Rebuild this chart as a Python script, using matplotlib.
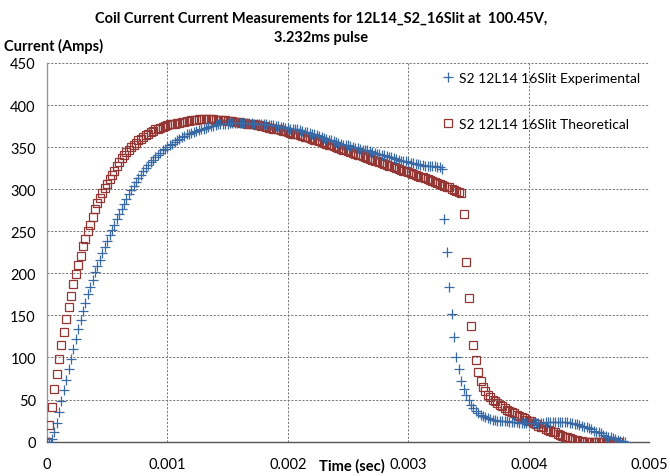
import numpy as np
import matplotlib
matplotlib.use("Agg")
import matplotlib.pyplot as plt

plt.rcParams['font.family'] = ['Lato', 'DejaVu Sans']

# scope samples every 20 us
sample_step = 2e-5

# S2 12L14 16Slit Experimental (Amps), from t = 0
exp_amps = [
    0, 0, 3, 12, 22, 35, 48, 61, 73, 86,
    98, 110, 122, 134, 144, 155, 165, 175, 184, 192,
    201, 209, 216, 224, 231, 238, 245, 251, 257, 264,
    270, 276, 282, 288, 294, 299, 304, 309, 313, 317,
    321, 325, 329, 332, 335, 338, 341, 343, 346, 348,
    350, 352, 354, 356, 358, 360, 362, 363, 365, 366,
    367, 368, 369, 370, 371, 372, 373, 374, 375, 375,
    376, 377, 377, 378, 378, 378, 379, 379, 379, 379,
    379, 379, 379, 379, 379, 379, 378, 378, 378, 377,
    377, 377, 376, 376, 376, 375, 375, 374, 374, 373,
    373, 372, 372, 371, 371, 370, 369, 368, 368, 367,
    366, 365, 364, 363, 362, 361, 360, 359, 358, 357,
    356, 355, 354, 353, 353, 352, 351, 350, 349, 349,
    348, 347, 346, 346, 345, 344, 343, 342, 342, 341,
    340, 339, 338, 338, 337, 336, 335, 334, 334, 333,
    332, 331, 331, 330, 330, 329, 329, 328, 328, 327,
    327, 327, 326, 326, 324, 265, 225, 184, 152, 124,
    101, 86, 72, 63, 55, 49, 44, 40, 37, 34,
    32, 30, 29, 28, 27, 26, 26, 25, 25, 24,
    24, 24, 23, 23, 23, 23, 22, 22, 22, 22,
    22, 22, 22, 22, 22, 22, 22, 23, 23, 23,
    23, 23, 23, 23, 23, 23, 23, 22, 22, 21,
    21, 20, 19, 18, 17, 16, 15, 13, 12, 11,
    10, 8, 7, 6, 5, 4, 3, 2, 1, 1,
    0,
]

# S2 12L14 16Slit Theoretical (Amps), from t = 0
th_amps = [
    0, 20, 41, 62, 80, 98, 115, 130, 146, 160,
    173, 187, 199, 210, 221, 232, 241, 250, 258, 267,
    276, 283, 290, 296, 301, 306, 312, 317, 322, 327,
    332, 337, 341, 344, 347, 350, 353, 355, 358, 360,
    362, 364, 366, 368, 369, 371, 372, 373, 374, 375,
    376, 377, 378, 378, 379, 379, 380, 380, 381, 381,
    382, 382, 382, 383, 383, 383, 383, 383, 383, 383,
    382, 382, 382, 382, 382, 381, 381, 381, 380, 380,
    380, 379, 379, 378, 378, 377, 377, 376, 376, 375,
    375, 374, 373, 373, 372, 371, 371, 370, 369, 369,
    368, 367, 366, 366, 365, 364, 363, 362, 362, 361,
    360, 359, 358, 357, 356, 355, 354, 353, 352, 351,
    350, 349, 348, 347, 346, 345, 344, 343, 342, 341,
    340, 339, 338, 337, 336, 335, 334, 333, 332, 331,
    330, 329, 328, 327, 326, 325, 324, 323, 322, 321,
    320, 319, 318, 317, 316, 315, 314, 313, 312, 311,
    310, 308, 307, 306, 305, 304, 303, 302, 300, 299,
    298, 297, 295, 270, 213, 171, 138, 115, 97, 83,
    72, 65, 60, 56, 53, 50, 48, 46, 44, 42,
    40, 38, 37, 35, 34, 32, 31, 29, 28, 26,
    25, 24, 22, 21, 19, 18, 17, 15, 14, 13,
    12, 11, 9, 8, 7, 6, 5, 4, 3, 2,
    2, 1, 1, 0, 0, 0, 0, 0, 0, 0,
    0, 0, 0, 0, 0, 0, 0, 0,
]

exp_t = np.arange(len(exp_amps)) * sample_step
th_t = np.arange(len(th_amps)) * sample_step

x_ticks = [0, 0.001, 0.002, 0.003, 0.004, 0.005]
x_tick_labels = ["0", "0.001", "0.002", "0.003", "0.004", "0.005"]
y_ticks = list(range(0, 451, 50))

fig = plt.figure(figsize=(6.7, 4.77), dpi=100)
ax = fig.add_axes([0.070, 0.072, 0.899, 0.794])

ax.plot(th_t, th_amps, linestyle="none", marker="s", markersize=5.5,
        markerfacecolor="none", markeredgecolor="#943634", markeredgewidth=0.9,
        label="S2 12L14 16Slit Theoretical", zorder=3)
ax.plot(exp_t, exp_amps, linestyle="none", marker="+", markersize=6.5,
        color="#3a6aa5", markeredgewidth=0.9,
        label="S2 12L14 16Slit Experimental", zorder=4)

ax.set_xlim(0, 0.005)
ax.set_ylim(0, 450)
ax.set_xticks(x_ticks)
ax.set_xticklabels(x_tick_labels)
ax.set_yticks(y_ticks)
ax.tick_params(length=0, labelsize=10.5, pad=8)
ax.tick_params(axis="x", pad=11)

ax.grid(True, color="#777777", linestyle=(0, (2.2, 1.6)), linewidth=0.7)
ax.set_axisbelow(True)
for s in ["top", "right"]:
    ax.spines[s].set_visible(False)
ax.spines["left"].set_color("#999999")
ax.spines["bottom"].set_color("#555555")
ax.spines["left"].set_linewidth(1.0)
ax.spines["bottom"].set_linewidth(1.0)

fig.text(0.479, 0.975, "Coil Current Current Measurements for 12L14_S2_16Slit at  100.45V,\n3.232ms pulse",
         ha="center", va="top", fontsize=10.5, fontweight="bold", linespacing=1.45)
fig.text(0.006, 0.903, "Current (Amps)", ha="left", va="center",
         fontsize=10.5, fontweight="bold")
fig.text(0.525, 0.022, "Time (sec)", ha="center", va="center",
         fontsize=10.5, fontweight="bold")

handles, labels = ax.get_legend_handles_labels()
ax.legend(handles[::-1], labels[::-1], loc="upper left", bbox_to_anchor=(0.648, 0.99),
          frameon=False, fontsize=10, handlelength=0.8, handletextpad=0.4,
          labelspacing=2.4, borderaxespad=0)

fig.savefig("out.png", dpi=100)
